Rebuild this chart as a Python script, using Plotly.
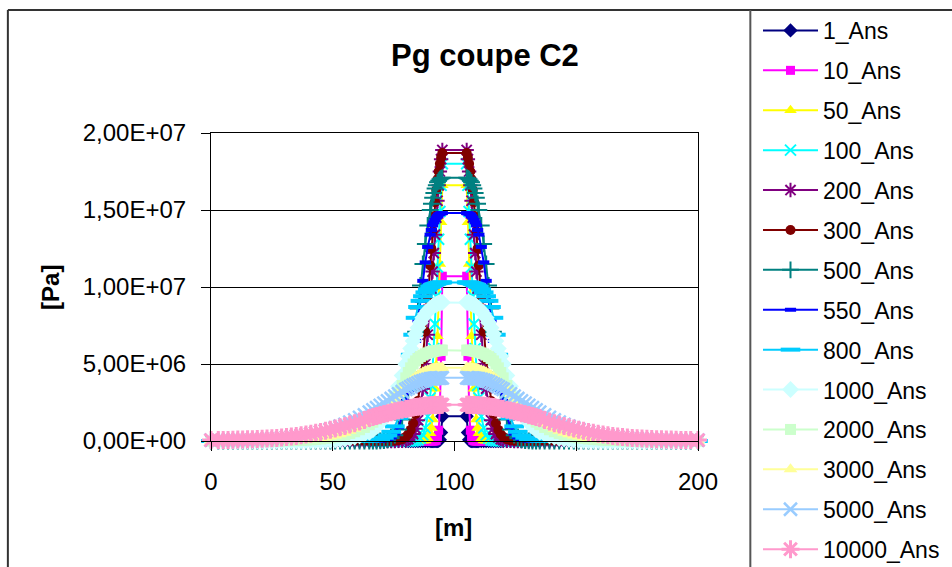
import plotly.graph_objects as go

# ---------------- data ----------------
# distance from gallery wall (m); left wall at x=95, right wall at x=105
DIST = [0, 0.5, 1, 1.5, 2, 2.5, 3, 3.5, 4, 4.5, 5,
        6, 7, 8, 9, 10, 11, 12, 13, 14, 15,
        16.5, 18, 19.5, 21, 22.5, 24, 25.5, 27, 28.5, 30,
        32, 34, 36, 38, 40, 42, 44, 46, 48, 50, 52, 54, 56, 58, 60, 62,
        64, 66, 68, 70, 72, 74, 76, 78, 80, 82, 84, 86, 88, 90, 92, 95]
WALL_LEFT = 95.0
WALL_RIGHT = 105.0

SERIES = ["1_Ans", "10_Ans", "50_Ans", "100_Ans", "200_Ans", "300_Ans", "500_Ans",
          "550_Ans", "800_Ans", "1000_Ans", "2000_Ans", "3000_Ans", "5000_Ans", "10000_Ans"]

# gas pressure profiles (MPa) vs DIST
P1 = [1.6, 0.55, 0.08, 0.01, 0, 0, 0, 0, 0, 0, 0,
      0, 0, 0, 0, 0, 0, 0, 0, 0, 0,
      0, 0, 0, 0, 0, 0, 0, 0, 0, 0,
      0, 0, 0, 0, 0, 0, 0, 0, 0, 0, 0, 0, 0, 0, 0, 0,
      0, 0, 0, 0, 0, 0, 0, 0, 0, 0, 0, 0, 0, 0, 0, 0]
P10 = [10.7, 5.5, 2.2, 0.7, 0.2, 0.05, 0.01, 0, 0, 0, 0,
       0, 0, 0, 0, 0, 0, 0, 0, 0, 0,
       0, 0, 0, 0, 0, 0, 0, 0, 0, 0,
       0, 0, 0, 0, 0, 0, 0, 0, 0, 0, 0, 0, 0, 0, 0, 0,
       0, 0, 0, 0, 0, 0, 0, 0, 0, 0, 0, 0, 0, 0, 0, 0]
P50 = [16.6, 14.2, 11.5, 9.0, 6.8, 4.9, 3.4, 2.2, 1.4, 0.85, 0.5,
       0.15, 0.04, 0.01, 0, 0, 0, 0, 0, 0, 0,
       0, 0, 0, 0, 0, 0, 0, 0, 0, 0,
       0, 0, 0, 0, 0, 0, 0, 0, 0, 0, 0, 0, 0, 0, 0, 0,
       0, 0, 0, 0, 0, 0, 0, 0, 0, 0, 0, 0, 0, 0, 0, 0]
P100 = [18.0, 16.6, 14.9, 13.1, 11.3, 9.4, 7.6, 6.0, 4.7, 3.6, 2.8,
        1.6, 0.85, 0.4, 0.17, 0.07, 0.03, 0.01, 0, 0, 0,
        0, 0, 0, 0, 0, 0, 0, 0, 0, 0,
        0, 0, 0, 0, 0, 0, 0, 0, 0, 0, 0, 0, 0, 0, 0, 0,
        0, 0, 0, 0, 0, 0, 0, 0, 0, 0, 0, 0, 0, 0, 0, 0]
P200 = [18.9, 18.3, 17.5, 16.6, 15.6, 14.5, 13.4, 12.2, 11.0, 9.9, 8.8,
        6.9, 5.0, 3.4, 2.2, 1.35, 0.8, 0.45, 0.24, 0.12, 0.06,
        0.02, 0.01, 0, 0, 0, 0, 0, 0, 0, 0,
        0, 0, 0, 0, 0, 0, 0, 0, 0, 0, 0, 0, 0, 0, 0, 0,
        0, 0, 0, 0, 0, 0, 0, 0, 0, 0, 0, 0, 0, 0, 0, 0]
P300 = [18.7, 18.4, 18.0, 17.5, 17.0, 16.3, 15.5, 14.6, 13.6, 12.5, 11.4,
        9.2, 7.1, 5.3, 3.8, 2.6, 1.75, 1.15, 0.72, 0.44, 0.26,
        0.12, 0.05, 0.02, 0.01, 0, 0, 0, 0, 0, 0,
        0, 0, 0, 0, 0, 0, 0, 0, 0, 0, 0, 0, 0, 0, 0, 0,
        0, 0, 0, 0, 0, 0, 0, 0, 0, 0, 0, 0, 0, 0, 0, 0]
P500 = [17.1, 17.05, 17.0, 16.9, 16.8, 16.6, 16.4, 16.1, 15.8, 15.4, 15.0,
        14.0, 12.8, 11.5, 10.1, 8.6, 7.1, 5.7, 4.4, 3.3, 2.4,
        1.4, 0.75, 0.38, 0.18, 0.08, 0.03, 0.01, 0, 0, 0,
        0, 0, 0, 0, 0, 0, 0, 0, 0, 0, 0, 0, 0, 0, 0, 0,
        0, 0, 0, 0, 0, 0, 0, 0, 0, 0, 0, 0, 0, 0, 0, 0]
P550 = [14.8, 14.78, 14.75, 14.7, 14.6, 14.5, 14.35, 14.2, 14.0, 13.7, 13.4,
        12.6, 11.6, 10.4, 9.1, 7.8, 6.5, 5.2, 4.1, 3.2, 2.6,
        1.6, 0.9, 0.48, 0.24, 0.11, 0.05, 0.02, 0.01, 0, 0,
        0, 0, 0, 0, 0, 0, 0, 0, 0, 0, 0, 0, 0, 0, 0, 0,
        0, 0, 0, 0, 0, 0, 0, 0, 0, 0, 0, 0, 0, 0, 0, 0]
P800 = [10.3, 10.29, 10.28, 10.26, 10.24, 10.21, 10.18, 10.14, 10.1, 10.05, 10.0,
        9.85, 9.65, 9.4, 9.1, 8.7, 8.0, 6.9, 5.6, 4.4, 3.4,
        2.3, 1.5, 0.95, 0.6, 0.36, 0.21, 0.12, 0.07, 0.04, 0.02,
        0.01, 0, 0, 0, 0, 0, 0, 0, 0, 0, 0, 0, 0, 0, 0, 0,
        0, 0, 0, 0, 0, 0, 0, 0, 0, 0, 0, 0, 0, 0, 0, 0]
P1000 = [9.0, 8.99, 8.97, 8.95, 8.92, 8.88, 8.84, 8.79, 8.73, 8.67, 8.6,
         8.45, 8.25, 8.0, 7.7, 7.35, 6.95, 6.5, 6.0, 5.5, 5.0,
         4.25, 3.55, 2.95, 2.4, 1.95, 1.55, 1.22, 0.95, 0.73, 0.56,
         0.45, 0.34, 0.25, 0.18, 0.13, 0.09, 0.06, 0.04, 0.03, 0.02, 0.012, 0.008, 0.005, 0.003, 0.002, 0,
         0, 0, 0, 0, 0, 0, 0, 0, 0, 0, 0, 0, 0, 0, 0, 0]
P2000 = [5.9, 5.9, 5.89, 5.88, 5.87, 5.86, 5.85, 5.83, 5.81, 5.79, 5.77,
         5.72, 5.66, 5.58, 5.48, 5.36, 5.2, 5.0, 4.75, 4.45, 4.1,
         3.6, 3.15, 2.75, 2.4, 2.1, 1.83, 1.6, 1.4, 1.22, 1.06,
         0.88, 0.73, 0.6, 0.49, 0.4, 0.32, 0.26, 0.21, 0.17, 0.13, 0.1, 0.08, 0.06, 0.045, 0.035, 0.027,
         0.02, 0.015, 0.011, 0.008, 0.006, 0.004, 0.003, 0.002, 0.001, 0, 0, 0, 0, 0, 0, 0]
P3000 = [4.75, 4.75, 4.74, 4.74, 4.73, 4.72, 4.71, 4.7, 4.69, 4.67, 4.65,
         4.6, 4.54, 4.46, 4.37, 4.27, 4.15, 4.02, 3.88, 3.73, 3.57,
         3.32, 3.07, 2.82, 2.58, 2.34, 2.11, 1.9, 1.7, 1.51, 1.34,
         1.14, 0.96, 0.8, 0.66, 0.54, 0.44, 0.36, 0.29, 0.23, 0.18, 0.14, 0.11, 0.085, 0.065, 0.05, 0.04,
         0.03, 0.024, 0.019, 0.015, 0.012, 0.01, 0.008, 0.007, 0.006, 0.005, 0.004, 0.004, 0.003, 0.003, 0.003, 0.003]
P5000 = [4.1, 4.1, 4.09, 4.09, 4.08, 4.08, 4.07, 4.06, 4.05, 4.04, 4.03,
         4.0, 3.96, 3.91, 3.85, 3.78, 3.7, 3.62, 3.53, 3.44, 3.35,
         3.21, 3.06, 2.91, 2.76, 2.61, 2.46, 2.31, 2.16, 2.02, 1.88,
         1.7, 1.53, 1.37, 1.22, 1.08, 0.96, 0.85, 0.75, 0.66, 0.58, 0.51, 0.45, 0.39, 0.34, 0.3, 0.26,
         0.23, 0.2, 0.17, 0.15, 0.13, 0.115, 0.1, 0.09, 0.08, 0.07, 0.065, 0.06, 0.055, 0.05, 0.05, 0.05]
P10000 = [2.35, 2.35, 2.35, 2.34, 2.34, 2.34, 2.33, 2.33, 2.33, 2.32, 2.32,
          2.31, 2.29, 2.27, 2.25, 2.23, 2.2, 2.17, 2.14, 2.11, 2.08,
          2.03, 1.98, 1.93, 1.87, 1.81, 1.75, 1.69, 1.62, 1.56, 1.49,
          1.36, 1.26, 1.16, 1.07, 0.98, 0.89, 0.81, 0.73, 0.66, 0.59, 0.53, 0.47, 0.42, 0.37, 0.33, 0.29,
          0.26, 0.23, 0.2, 0.18, 0.16, 0.14, 0.13, 0.12, 0.11, 0.1, 0.09, 0.08, 0.07, 0.07, 0.06, 0.06]

PROFILES = [P1, P10, P50, P100, P200, P300, P500, P550, P800, P1000, P2000, P3000, P5000, P10000]

X_TICKS = [0, 50, 100, 150, 200]
Y_TICKS = [0, 5e6, 1e7, 1.5e7, 2e7]
Y_TICK_TEXT = ["0,00E+00", "5,00E+06", "1,00E+07", "1,50E+07", "2,00E+07"]

# ---------------- styles ----------------
COLORS = ["#000080", "#FF00FF", "#FFFF00", "#00FFFF", "#800080", "#800000", "#008080",
          "#0000FF", "#00CCFF", "#CCFFFF", "#CCFFCC", "#FFFF99", "#99CCFF", "#FF99CC"]
SYMBOLS = ["diamond", "square", "triangle-up", "x-thin", "asterisk", "circle", "cross-thin",
           "line-ew", "line-ew", "diamond", "square", "triangle-up", "x-thin", "asterisk"]
SIZES = [11, 9, 11, 11, 12, 10, 12, 8, 14, 13, 11, 12, 13, 15]
MARKER_LW = [0, 0, 0, 2, 2, 0, 2, 4, 4, 0, 0, 0, 2.5, 3]

FONT = "Liberation Sans, Arial, sans-serif"
W, H = 952, 567
PL, PR, PT, PB = 211, 697.7, 133, 441  # plot-area pixel edges

for p in PROFILES:
    if len(p) != len(DIST):
        raise ValueError("profile length mismatch")

fig = go.Figure()
for name, prof, col, sym, sz, mlw in zip(SERIES, PROFILES, COLORS, SYMBOLS, SIZES, MARKER_LW):
    x = [WALL_LEFT - d for d in reversed(DIST)] + [WALL_RIGHT + d for d in DIST]
    y = [v * 1e6 for v in reversed(prof)] + [v * 1e6 for v in prof]
    fig.add_trace(go.Scatter(
        x=x, y=y, name=name, legendgroup=name, mode="lines+markers",
        line=dict(color=col, width=2),
        marker=dict(symbol=sym, size=sz, color=col, line=dict(color=col, width=mlw)),
        cliponaxis=False,
    ))


def px_x(X):
    return (X - PL) / (PR - PL)


def px_y(Y):
    return (PB - Y) / (PB - PT)


frame = dict(color="#333333", width=2)
fig.add_shape(type="line", xref="paper", yref="paper", x0=px_x(8), x1=px_x(960), y0=px_y(10), y1=px_y(10), line=frame)
fig.add_shape(type="line", xref="paper", yref="paper", x0=px_x(8), x1=px_x(8), y0=px_y(10), y1=px_y(575), line=frame)
fig.add_shape(type="line", xref="paper", yref="paper", x0=px_x(750), x1=px_x(750), y0=px_y(10), y1=px_y(575),
              line=dict(color="#555555", width=2))

fig.add_annotation(text="<b>[Pa]</b>", xref="paper", yref="paper", x=px_x(50), y=px_y(287),
                   xanchor="center", yanchor="middle",
                   textangle=-90, showarrow=False, font=dict(family=FONT, size=24, color="black"))
fig.add_annotation(text="<b>[m]</b>", xref="paper", yref="paper", x=px_x(453), y=px_y(527),
                   xanchor="center", yanchor="middle",
                   showarrow=False, font=dict(family=FONT, size=24, color="black"))

fig.update_layout(
    width=W, height=H, autosize=False,
    margin=dict(l=PL, r=W - PR, t=PT, b=H - PB, pad=0),
    paper_bgcolor="white", plot_bgcolor="white",
    font=dict(family=FONT, color="black"),
    title=dict(text="<b>Pg coupe C2</b>", font=dict(family=FONT, size=31, color="black"),
               xref="container", yref="container", x=485 / W, y=1 - 55 / H,
               xanchor="center", yanchor="middle"),
    legend=dict(xref="container", yref="container", x=758 / W, y=1 - 9 / H,
                xanchor="left", yanchor="top", bgcolor="rgba(0,0,0,0)", borderwidth=0,
                font=dict(family=FONT, size=23, color="black"), itemwidth=55,
                tracegroupgap=7, traceorder="grouped", maxheight=600),
    showlegend=True,
)
fig.update_xaxes(range=[0, 200], tickvals=X_TICKS, ticks="outside", ticklen=9, tickcolor="black",
                 showgrid=False, zeroline=False, showline=True, linecolor="black", linewidth=1,
                 mirror=True, tickfont=dict(family=FONT, size=24, color="black"),
                 ticklabelstandoff=10)
fig.update_yaxes(range=[0, 2e7], tickvals=Y_TICKS, ticktext=Y_TICK_TEXT, ticks="outside", ticklen=9,
                 tickcolor="black", showgrid=True, gridcolor="black", gridwidth=1, zeroline=False,
                 showline=True, linecolor="black", linewidth=1, mirror=True,
                 tickfont=dict(family=FONT, size=24, color="black"), ticklabelstandoff=10)

fig.write_html("out.html")
